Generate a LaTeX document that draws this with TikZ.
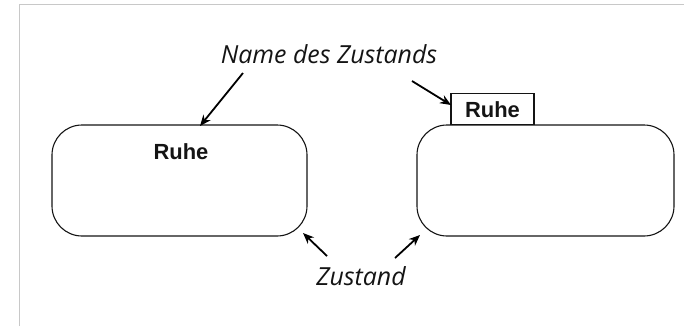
\documentclass[tikz,border=0pt]{standalone}
\usepackage{fontspec}
\setmainfont{Liberation Sans}
\newfontfamily\notefont{Open Sans}
\usetikzlibrary{arrows.meta}
\definecolor{framegray}{RGB}{200,200,200}
\definecolor{ink}{RGB}{20,20,20}
\begin{document}
\begin{tikzpicture}[x=1bp,y=1bp,
  statebox/.style={draw=ink, line width=1.1bp, rounded corners=30bp, minimum width=#1, minimum height=111bp, inner sep=0pt},
  namebox/.style={draw=ink, line width=1.1bp, minimum width=83bp, minimum height=31bp, inner sep=0pt},
  statename/.style={font=\bfseries\fontsize{22}{24}\selectfont, text=ink},
  note/.style={font=\notefont\itshape\fontsize{25}{28}\selectfont, text=ink},
  pointer/.style={-{Stealth[length=11bp,width=9bp]}, line width=1.8bp, black}]
  \useasboundingbox (0,0) rectangle (684,-326);
  % page frame
  \draw[framegray, line width=1.6bp] (19.5,-326) -- (19.5,-4.5) -- (684,-4.5);

  % the two ways of naming a state
  \node[statebox=255bp] (lbox) at (179.5,-180.5) {};
  \node[statename, anchor=base] (lname) at (181,-159) {Ruhe};
  \node[statebox=257bp] (rbox) at (545.5,-180.5) {};
  \node[namebox, anchor=south] (rtab) at (492.5,-125) {};
  \node[statename, anchor=base] (rname) at (rtab.center |- 0,-117) {Ruhe};

  % annotations
  \node[note, anchor=base] (title) at (329,-63) {Name des Zustands};
  \node[note, anchor=base] (state) at (361,-285) {Zustand};

  \coordinate (a1) at (243,-73);
  \coordinate (t1) at (200,-126);
  \coordinate (a2) at (412,-81);
  \coordinate (t2) at (451,-105);
  \coordinate (a3) at (327,-256);
  \coordinate (t3) at (303,-233);
  \coordinate (a4) at (395,-258);
  \coordinate (t4) at (420,-235);
  \draw[pointer] (a1) -- (t1);
  \draw[pointer] (a2) -- (t2);
  \draw[pointer] (a3) -- (t3);
  \draw[pointer] (a4) -- (t4);
\end{tikzpicture}
\end{document}
